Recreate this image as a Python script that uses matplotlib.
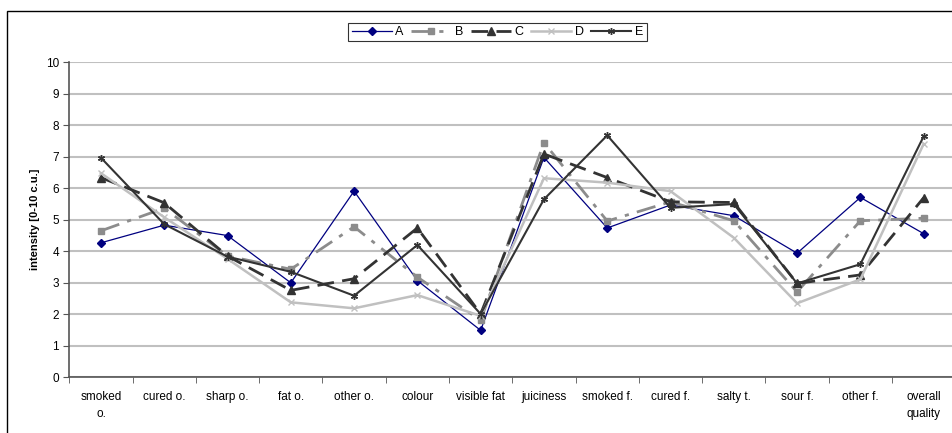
import matplotlib

matplotlib.use("Agg")
import matplotlib.pyplot as plt
from matplotlib.patches import Rectangle
import numpy as np

plt.rcParams["font.family"] = ["Liberation Sans", "DejaVu Sans"]

CATEGORIES = [
    "smoked\no.", "cured o.", "sharp o.", "fat o.", "other o.", "colour", "visible fat",
    "juiciness", "smoked f.", "cured f.", "salty t.", "sour f.", "other f.", "overall\nquality",
]

A = [4.27, 4.83, 4.50, 3.00, 5.91, 3.07, 1.49, 6.98, 4.74, 5.47, 5.13, 3.94, 5.71, 4.56]
B = [4.65, 5.37, 3.85, 3.43, 4.78, 3.18, 1.81, 7.45, 4.96, 5.57, 4.97, 2.71, 4.97, 5.05]
C = [6.34, 5.54, 3.85, 2.76, 3.13, 4.74, 2.01, 7.09, 6.34, 5.57, 5.55, 2.98, 3.25, 5.70]
D = [6.48, 5.08, 3.76, 2.38, 2.19, 2.61, 1.95, 6.32, 6.18, 5.91, 4.43, 2.35, 3.11, 7.41]
E = [6.97, 4.86, 3.83, 3.35, 2.59, 4.20, 2.01, 5.65, 7.68, 5.38, 5.50, 2.98, 3.59, 7.65]

STYLES = [
    ("A", A, dict(color="#000080", lw=0.9, ls="-", marker="D", ms=4.5)),
    ("B", B, dict(color="#8c8c8c", lw=2.0, ls=(0, (7, 3, 1.5, 3)), marker="s", ms=5)),
    ("C", C, dict(color="#333333", lw=2.0, ls=(0, (6, 3)), marker="^", ms=6)),
    ("D", D, dict(color="#c0c0c0", lw=1.8, ls="-", marker="x", ms=4, mew=1)),
    ("E", E, dict(color="#333333", lw=1.5, ls="-", marker=(6, 2, 0), ms=5, mew=1)),
]

fig = plt.figure(figsize=(9.53, 4.33), dpi=100)
ax = fig.add_axes([69.3 / 953, 1 - 377.3 / 433, 886 / 953, 315 / 433])

x = np.arange(len(CATEGORIES))
for name, values, style in STYLES:
    ax.plot(x, values, label=name, **style)

ax.set_xlim(-0.5, len(CATEGORIES) - 0.5)
ax.set_ylim(0, 10)
ax.set_yticks(range(0, 11))
ax.grid(axis="y", color="#c0c0c0", lw=1.5)
ax.set_axisbelow(True)

ax.set_xticks(x)
ax.set_xticklabels(CATEGORIES, fontsize=8.5, linespacing=1.5)
ax.set_xticks(np.arange(-0.5, len(CATEGORIES) + 0.5), minor=True)
ax.tick_params(axis="x", which="major", length=0, pad=10)
ax.tick_params(axis="x", which="minor", length=4, color="#555555")
ax.tick_params(axis="y", length=4, color="#555555", labelsize=8.5)

for side in ["top", "right"]:
    ax.spines[side].set_visible(False)
for side in ["left", "bottom"]:
    ax.spines[side].set_color("#555555")
    ax.spines[side].set_linewidth(1.2)

ax.set_ylabel("intensity [0-10 c.u.]", fontsize=8, fontweight="bold", labelpad=4)

leg = fig.legend(
    loc="center", bbox_to_anchor=(497.5 / 953, 1 - 32 / 433), ncol=5, fontsize=9,
    frameon=True, fancybox=False, edgecolor="black", handlelength=3.2,
    columnspacing=0.6, handletextpad=0.3, borderpad=0.25,
)
leg.get_frame().set_linewidth(0.8)

fig.patches.append(Rectangle((7 / 953, -0.1), 1.2, 1 - 11 / 433 + 0.1, transform=fig.transFigure,
                             fill=False, edgecolor="black", lw=1.0))

fig.savefig("out.png", dpi=100)
